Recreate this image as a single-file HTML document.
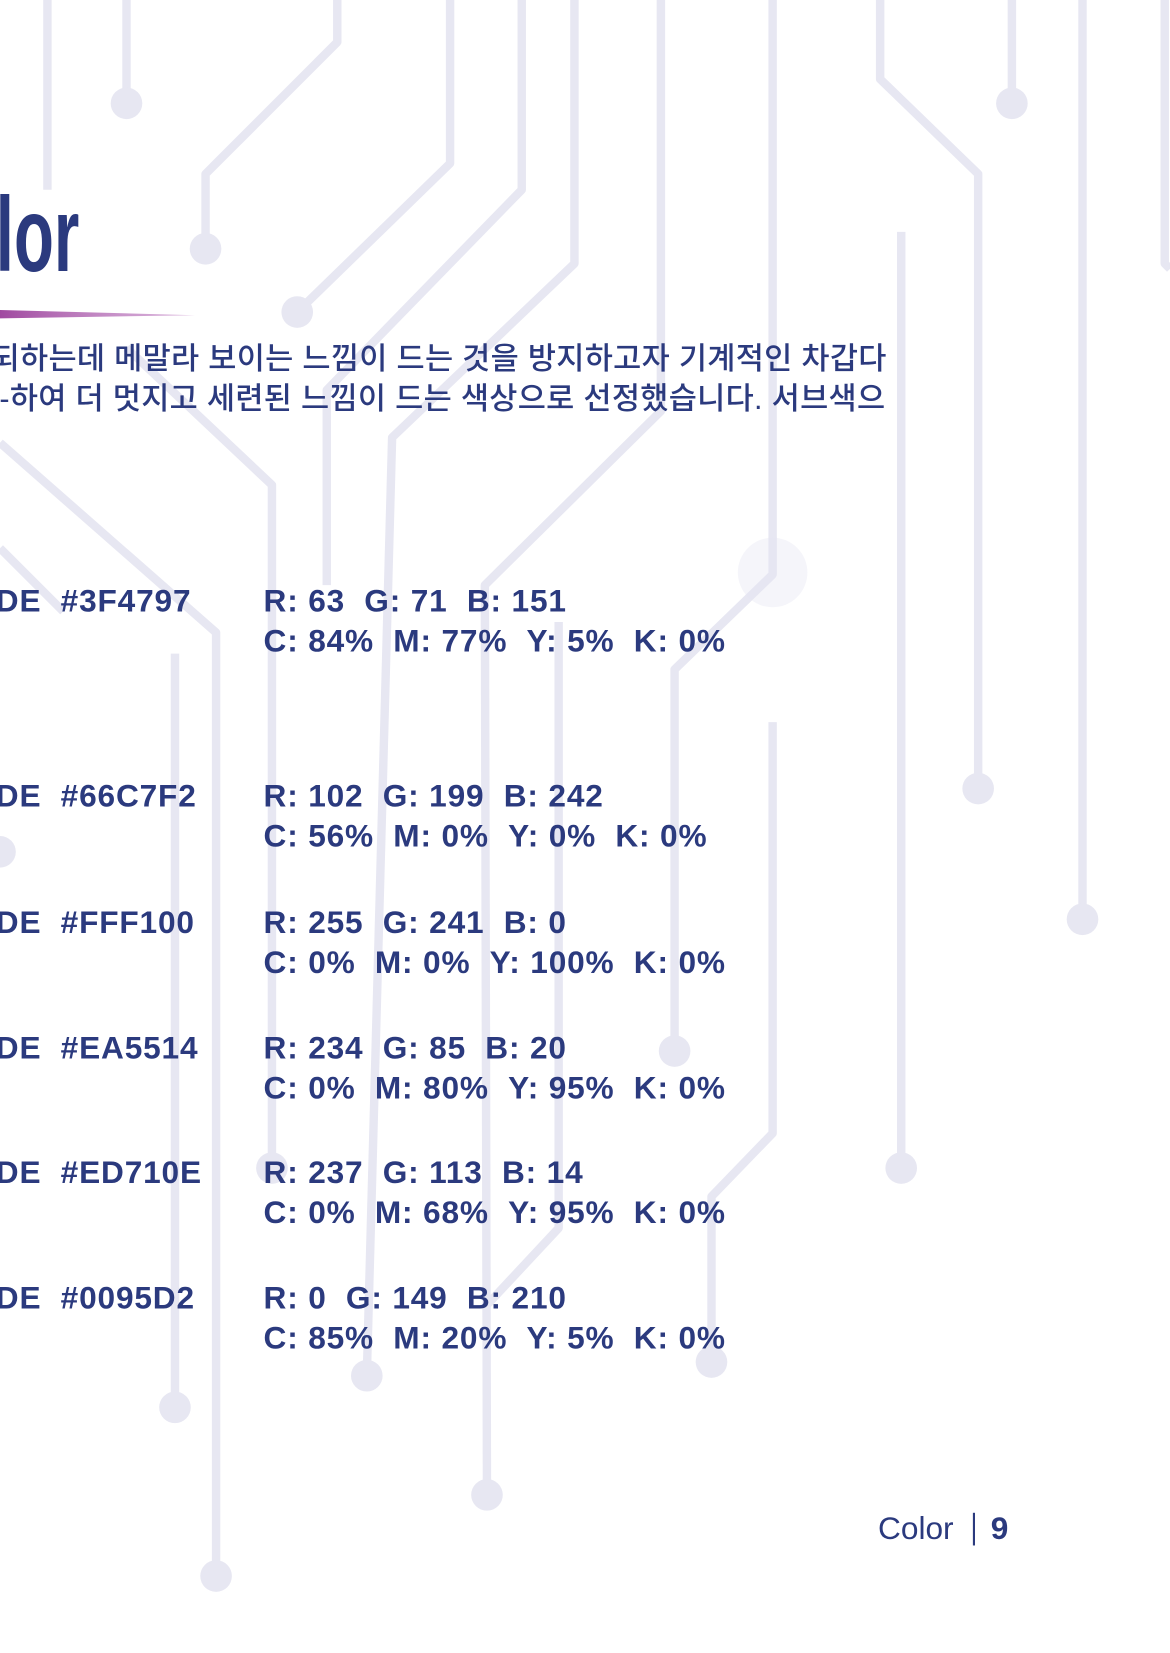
<!DOCTYPE html>
<html><head><meta charset="utf-8">
<style>
html,body{margin:0;padding:0;background:#fff;}
#page{position:relative;width:1110px;height:1568px;transform:scale(1.05405,1.05421);transform-origin:0 0;overflow:hidden;background:#fff;}
.t{position:absolute;color:#2b3a7e;font-family:"Liberation Sans","Noto Sans CJK KR",sans-serif;white-space:nowrap;}
.b{font-weight:bold;font-size:30px;line-height:38px;letter-spacing:0.8px;}
</style></head>
<body>
<div id="page">
<svg width="1110" height="1568" style="position:absolute;left:0;top:0">
<g stroke="#e7e7f2" stroke-width="8" fill="none" stroke-linejoin="round">
<polyline points="45,0 45,180"/>
<polyline points="120,0 120,98"/>
<polyline points="320,0 320,40 195,165 195,236"/>
<polyline points="427,0 427,155 282,296"/>
<polyline points="495,0 495,180 310,370 310,555"/>
<polyline points="545,0 545,250 372,415 348,1305"/>
<polyline points="627,0 627,390 460,555 462,1418"/>
<polyline points="733,0 733,545 640,635 640,997"/>
<polyline points="733,685 733,1075 675,1135 675,1292"/>
<polyline points="835,0 835,75 928,165 928,748"/>
<polyline points="960,0 960,98"/>
<polyline points="1027,0 1027,872"/>
<polyline points="1105,0 1105,250 1110,255"/>
<polyline points="855,220 855,1108"/>
<polyline points="166,620 166,1335"/>
<polyline points="120,330 258,460 258,1108"/>
<polyline points="0,420 205,600 205,1495"/>
<polyline points="530,590 530,1165 460,1240"/>
<polyline points="0,520 60,580"/>
</g>
<g fill="#e7e7f2">
<circle cx="120" cy="98" r="15"/><circle cx="195" cy="236" r="15"/><circle cx="282" cy="296" r="15"/>
<circle cx="348" cy="1305" r="15"/><circle cx="462" cy="1418" r="15"/><circle cx="640" cy="997" r="15"/>
<circle cx="675" cy="1292" r="15"/><circle cx="928" cy="748" r="15"/><circle cx="960" cy="98" r="15"/>
<circle cx="1027" cy="872" r="15"/><circle cx="855" cy="1108" r="15"/><circle cx="166" cy="1335" r="15"/>
<circle cx="258" cy="1108" r="15"/><circle cx="205" cy="1495" r="15"/><circle cx="0" cy="808" r="15"/>
<circle cx="733" cy="543" r="33" opacity="0.4"/>
</g>
<defs><linearGradient id="g" x1="0" x2="1"><stop offset="0" stop-color="#a04aa0"/><stop offset="1" stop-color="#c58ac8" stop-opacity="0.6"/></linearGradient></defs>
<polygon points="0,294 185,299 0,302" fill="url(#g)"/>
</svg>
<div class="t" style="left:-4px;top:168px;font-size:100px;font-weight:bold;line-height:110px;transform:scaleX(0.62);transform-origin:0 0;">lor</div>
<div class="t" style="left:-8px;top:322px;font-size:29px;line-height:38px;font-weight:500;letter-spacing:0.3px;">
<div style="text-align:right;width:848px">되하는데 메말라 보이는 느낌이 드는 것을 방지하고자 기계적인 차갑다</div>
<div style="text-align:right;width:848px">-하여 더 멋지고 세련된 느낌이 드는 색상으로 선정했습니다. 서브색으</div>
</div>
<div class="t b" style="left:-4px;top:552px">DE &nbsp;#3F4797</div>
<div class="t b" style="left:250px;top:552px">R: 63 &nbsp;G: 71 &nbsp;B: 151<br>C: 84% &nbsp;M: 77% &nbsp;Y: 5% &nbsp;K: 0%</div>
<div class="t b" style="left:-4px;top:737px">DE &nbsp;#66C7F2</div>
<div class="t b" style="left:250px;top:737px">R: 102 &nbsp;G: 199 &nbsp;B: 242<br>C: 56% &nbsp;M: 0% &nbsp;Y: 0% &nbsp;K: 0%</div>
<div class="t b" style="left:-4px;top:857px">DE &nbsp;#FFF100</div>
<div class="t b" style="left:250px;top:857px">R: 255 &nbsp;G: 241 &nbsp;B: 0<br>C: 0% &nbsp;M: 0% &nbsp;Y: 100% &nbsp;K: 0%</div>
<div class="t b" style="left:-4px;top:976px">DE &nbsp;#EA5514</div>
<div class="t b" style="left:250px;top:976px">R: 234 &nbsp;G: 85 &nbsp;B: 20<br>C: 0% &nbsp;M: 80% &nbsp;Y: 95% &nbsp;K: 0%</div>
<div class="t b" style="left:-4px;top:1094px">DE &nbsp;#ED710E</div>
<div class="t b" style="left:250px;top:1094px">R: 237 &nbsp;G: 113 &nbsp;B: 14<br>C: 0% &nbsp;M: 68% &nbsp;Y: 95% &nbsp;K: 0%</div>
<div class="t b" style="left:-4px;top:1213px">DE &nbsp;#0095D2</div>
<div class="t b" style="left:250px;top:1213px">R: 0 &nbsp;G: 149 &nbsp;B: 210<br>C: 85% &nbsp;M: 20% &nbsp;Y: 5% &nbsp;K: 0%</div>
<div class="t" style="left:833px;top:1434px;font-size:30px;line-height:34px;">Color</div>
<div style="position:absolute;left:923px;top:1435px;width:2px;height:31px;background:#2b3a7e"></div>
<div class="t" style="left:940px;top:1434px;font-size:30px;line-height:34px;font-weight:bold">9</div>
</div>
</body></html>
